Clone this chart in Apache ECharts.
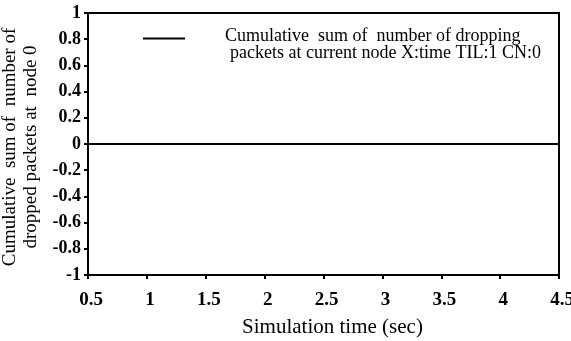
<!DOCTYPE html>
<html>
<head>
<meta charset="utf-8">
<script src="https://cdn.jsdelivr.net/npm/echarts@6/dist/echarts.min.js"></script>
<style>html,body{margin:0;padding:0;background:#fff}#c{width:571px;height:341px}</style>
</head>
<body>
<div id="c"></div>
<script>
const xValues = [0.5, 1, 1.5, 2, 2.5, 3, 3.5, 4, 4.5];
const droppedValues = [0, 0, 0, 0, 0, 0, 0, 0, 0];
const seriesName = 'Cumulative  sum of  number of dropping\npackets at current node X:time TIL:1 CN:0';
const xTitle = 'Simulation time (sec)';
const yTitle = 'Cumulative  sum of  number of\ndropped packets at  node 0';

const font = '"Liberation Serif", "Times New Roman", serif';
const chart = echarts.init(document.getElementById('c'), null, {renderer: 'canvas'});
const axisLine = {show: true, onZero: false, lineStyle: {color: '#000', width: 2}};
chart.setOption({
  animation: false,
  backgroundColor: '#fff',
  grid: {left: 88, right: 12, top: 13, bottom: 66, outerBoundsMode: 'none', containLabel: false,
    show: true, borderColor: '#000', borderWidth: 2},
  legend: {
    left: 138, top: 22,
    itemWidth: 42, itemHeight: 14,
    icon: 'path://M0,0 H42 V2 H0 Z M0,14 H0.01 V14.01 H0 Z',
    itemStyle: {color: '#000'},
    formatter: function (n) {
      const p = n.split('\n');
      return '{a|' + p[0] + '}\n{b|' + p[1] + '}';
    },
    textStyle: {
      fontFamily: font, fontSize: 18, color: '#000',
      rich: {
        a: {fontFamily: font, fontSize: 18, color: '#000', lineHeight: 17, padding: [0, 0, 0, 35]},
        b: {fontFamily: font, fontSize: 18, color: '#000', lineHeight: 17, padding: [0, 0, 0, 40]}
      }
    },
    data: [seriesName]
  },
  xAxis: {
    type: 'value', min: 0.5, max: 4.5, interval: 0.5,
    axisLine: axisLine,
    axisTick: {show: true, length: 4, lineStyle: {color: '#000', width: 2}},
    splitLine: {show: false},
    axisLabel: {color: '#000', fontFamily: font, fontWeight: 'bold', fontSize: 19, margin: 16, padding: [0, 0, 0, 6],
      showMinLabel: true, showMaxLabel: true},
    name: xTitle, nameLocation: 'middle', nameGap: 42,
    nameTextStyle: {color: '#000', fontFamily: font, fontSize: 21, padding: [0, 0, 0, 18]}
  },
  yAxis: {
    type: 'value', min: -1, max: 1, interval: 0.2,
    axisLine: axisLine,
    axisTick: {show: true, length: 4, lineStyle: {color: '#000', width: 2}},
    splitLine: {show: false},
    axisLabel: {color: '#000', fontFamily: font, fontWeight: 'bold', fontSize: 18, margin: 7,
      formatter: function (v) { return String(Math.round(v * 10) / 10); }},
    name: yTitle, nameLocation: 'middle', nameRotate: 90, nameGap: 39,
    nameTextStyle: {color: '#000', fontFamily: font, fontSize: 19, lineHeight: 21, padding: [0, 6, 0, 0]}
  },
  series: [{
    name: seriesName,
    type: 'line',
    data: xValues.map((x, i) => [x, droppedValues[i]]),
    showSymbol: false,
    lineStyle: {color: '#000', width: 2},
    itemStyle: {color: '#000'}
  }]
});
</script>
</body>
</html>
